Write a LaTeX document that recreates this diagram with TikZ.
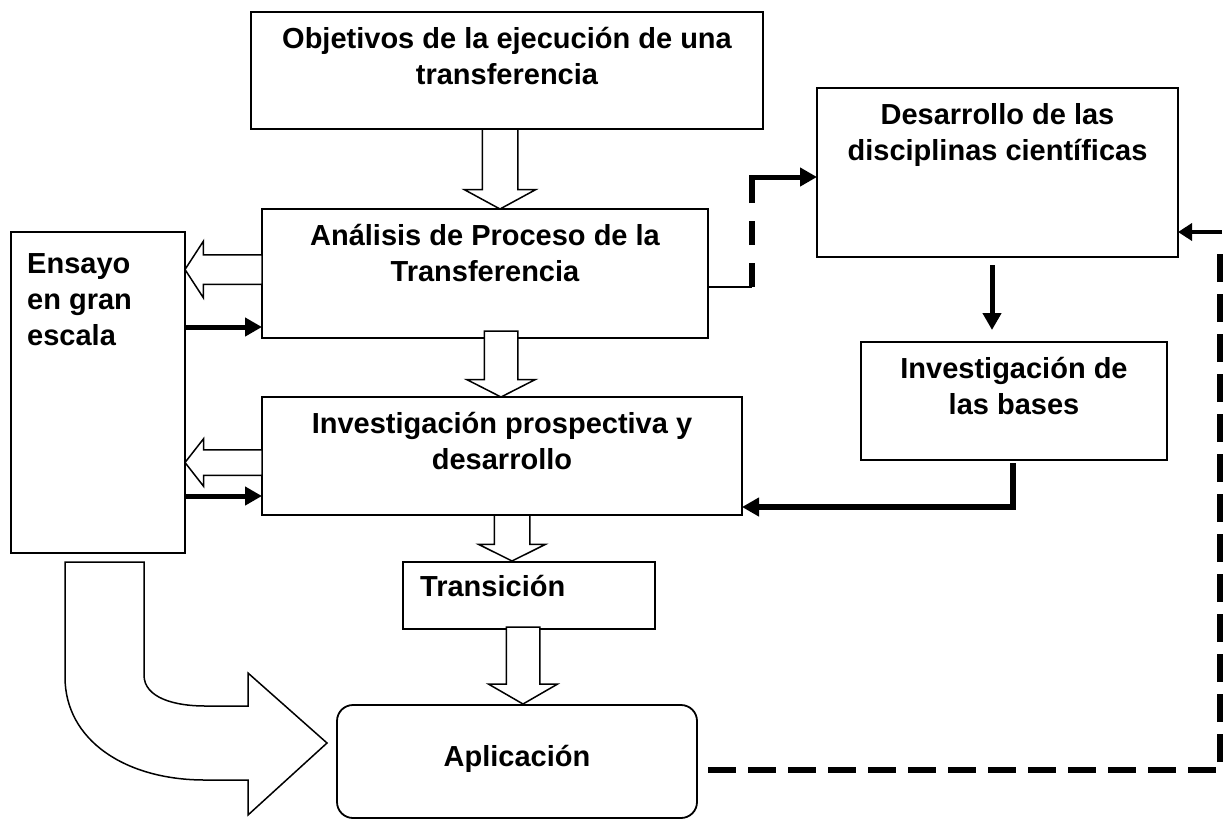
\documentclass[tikz,border=0pt]{standalone}
\usepackage{fontspec}
\setmainfont{Liberation Sans}
\usetikzlibrary{positioning,shapes.arrows,arrows.meta}

\tikzset{
  box/.style={draw, line width=1.8pt, anchor=north west, inner sep=0pt, outer sep=0pt},
  txt/.style={font=\bfseries\fontsize{29}{36}\selectfont, align=center, inner sep=0pt, anchor=north},
  hollow/.style={single arrow, draw, line width=1.5pt, fill=white, inner sep=0pt, outer sep=0pt, anchor=tail},
  thk/.style={line width=5pt, -{Triangle[length=17pt,width=18pt]}},
  dsh/.style={line width=5.5pt, dash pattern=on 28pt off 12pt}
}

\begin{document}
\begin{tikzpicture}[x=1pt,y=-1pt]
\useasboundingbox (0,0) rectangle (1225,823);

% boxes
\node[box, minimum width=512pt, minimum height=117pt,
  label={[txt, yshift=-15pt]north:{Objetivos de la ejecución de una\\transferencia}}] (obj) at (251,12) {};
\node[box, minimum width=446pt, minimum height=129pt,
  label={[txt, yshift=-15pt]north:{Análisis de Proceso de la\\Transferencia}}] (ana) at (262,209) {};
\node[box, minimum width=480pt, minimum height=118pt,
  label={[txt, yshift=-15pt]north:{Investigación prospectiva y\\desarrollo}}] (inv) at (262,397) {};
\node[box, minimum width=174pt, minimum height=321pt,
  label={[txt, align=left, anchor=north west, xshift=16pt, yshift=-21pt]north west:{Ensayo\\en gran\\escala}}] (ens) at (11,232) {};
\node[box, minimum width=252pt, minimum height=67pt,
  label={[txt, anchor=north west, xshift=17pt, yshift=-13pt]north west:Transición}] (tra) at (403,562) {};
\node[box, rounded corners=16pt, minimum width=360pt, minimum height=113pt,
  label={[txt, yshift=-40pt]north:Aplicación}] (apl) at (337,705) {};
\node[box, minimum width=361pt, minimum height=169pt,
  label={[txt, yshift=-15pt]north:{Desarrollo de las\\disciplinas científicas}}] (des) at (817,88) {};
\node[box, minimum width=306pt, minimum height=118pt,
  label={[txt, yshift=-15pt]north:{Investigación de\\las bases}}] (bas) at (861,342) {};

% hollow arrows
\node[hollow, rotate=-90, minimum height=80pt, inner ysep=17pt, single arrow head extend=18pt,
  single arrow tip angle=123] (h1) at ([xshift=-7pt]obj.south) {};
\node[hollow, rotate=-90, minimum height=66pt, inner ysep=16pt, single arrow head extend=17.5pt,
  single arrow tip angle=126] (h2) at ([xshift=16pt,yshift=7pt]ana.south) {};
\node[hollow, rotate=-90, minimum height=46pt, inner ysep=17pt, single arrow head extend=15.5pt,
  single arrow tip angle=127] (h3) at ([xshift=10pt]inv.south) {};
\node[hollow, rotate=-90, minimum height=77pt, inner ysep=16pt, single arrow head extend=17.5pt,
  single arrow tip angle=120] (h4) at ([xshift=-6pt,yshift=2pt]tra.south) {};
\node[hollow, rotate=180, minimum height=77pt, inner ysep=14pt, single arrow head extend=13.5pt,
  single arrow tip angle=114] (l1) at ([yshift=4pt]ana.west) {};
\node[hollow, rotate=180, minimum height=77pt, inner ysep=12pt, single arrow head extend=11pt,
  single arrow tip angle=104] (l2) at ([yshift=-6.5pt]inv.west) {};

% big bent arrow
\draw[line width=1.5pt, fill=white] (65,562) -- (144,562) -- (144,675)
  .. controls (144,698) and (175,706) .. (205,706) -- (248,706) -- (248,673) -- (327,743)
  -- (248,815) -- (248,780) -- (205,780) .. controls (125,780) and (65,740) .. (65,677) -- cycle;

% black arrows
\coordinate (e1) at ([yshift=-53.5pt]ana.west);
\coordinate (e2) at ([yshift=-40pt]inv.west);
\draw[thk] (e1 -| ens.east) -- (e1);
\draw[thk] (e2 -| ens.east) -- (e2);
\draw[thk] ([xshift=-5.5pt,yshift=-8pt]des.south) -- ([xshift=-22pt,yshift=12pt]bas.north);
\coordinate (b1) at ([xshift=-1pt,yshift=-3pt]bas.south);
\draw[thk, line width=5.5pt] (b1) |- ([yshift=-51pt]inv.east);

% dashed feedback
\coordinate (c1) at ([xshift=44pt,yshift=-13.5pt]ana.east);
\coordinate (d1) at ([yshift=-4.5pt]des.west);
\coordinate (c2) at (c1 |- d1);
\draw[line width=1.5pt] ([yshift=-13.5pt]ana.east) -- (c1);
\draw[line width=5.5pt, dash pattern=on 24pt off 18pt] (c1) -- (c2);
\draw[thk] ([xshift=-2.75pt]c2) -- (d1);

\coordinate (r0) at ([xshift=11pt,yshift=-8.5pt]apl.east);
\coordinate (r1) at (1220,770);
\coordinate (r3) at (1220,232);
\coordinate (r2) at ([yshift=-59.5pt]des.east);
\draw[dsh] (r0) -- (r1) -- ([yshift=-11pt]r3);
\draw[line width=4pt, -{Triangle[length=14pt,width=17pt]}] ([xshift=2pt]r3) -- (r2);
\end{tikzpicture}
\end{document}
